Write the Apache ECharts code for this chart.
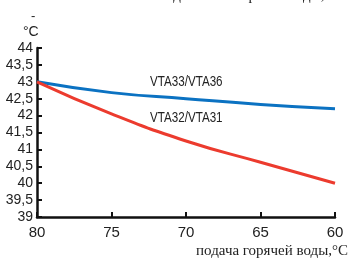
<!DOCTYPE html>
<html>
<head>
<meta charset="utf-8">
<script src="https://cdn.jsdelivr.net/npm/echarts@6/dist/echarts.min.js"></script>
<style>
  html, body { margin: 0; padding: 0; background: #fff; }
  #chart { width: 351px; height: 263px; }
</style>
</head>
<body>
<div id="chart"></div>
<script>
const supplyTemp = [80, 75, 70, 65, 60];
const vta33 = [43, 42.68, 42.5, 42.33, 42.2];
const vta32 = [43, 42.05, 41.25, 40.62, 40.0];
const seriesNames = ['VTA33/VTA36', 'VTA32/VTA31'];
const colors = ['#0b72c2', '#ec3b2e'];

const narrow = '"Liberation Sans Narrow", "Liberation Sans", sans-serif';
const serif = '"Liberation Serif", "DejaVu Serif", serif';

const toPairs = (ys) => supplyTemp.map((x, i) => [x, ys[i]]);

var myChart = echarts.init(document.getElementById('chart'));
myChart.setOption({
  animation: false,
  color: colors,
  grid: { left: 37, right: 16, top: 48, bottom: 46 },
  xAxis: {
    type: 'value',
    inverse: true,
    min: 60,
    max: 80,
    interval: 5,
    axisLine: { show: true, lineStyle: { color: '#111', width: 2.5 } },
    axisTick: { show: true, inside: true, length: 5, lineStyle: { color: '#111', width: 2 } },
    axisLabel: { color: '#222', fontFamily: narrow, fontSize: 15, margin: 8 },
    splitLine: { show: false }
  },
  yAxis: {
    type: 'value',
    min: 39,
    max: 44,
    interval: 0.5,
    axisLine: { show: true, lineStyle: { color: '#111', width: 2.5 } },
    axisTick: { show: true, inside: true, length: 5, lineStyle: { color: '#111', width: 2 } },
    axisLabel: {
      color: '#222', fontFamily: narrow, fontSize: 14, margin: 4,
      formatter: (v) => String(v).replace('.', ',')
    },
    splitLine: { show: false }
  },
  graphic: [
    { type: 'text', right: 14, top: -11, style: { text: 'снижение давления горячей воды,%', fontFamily: serif, fontSize: 15, fill: '#222' } },
    { type: 'text', left: 31, top: 10, style: { text: '-', fontFamily: narrow, fontSize: 13, fill: '#222' } },
    { type: 'text', left: 23, top: 25, style: { text: '°C', fontFamily: narrow, fontSize: 14, fill: '#222' } },
    { type: 'text', right: 3, top: 244, style: { text: 'подача горячей воды,°C', fontFamily: serif, fontSize: 15, fill: '#222' } },
    { type: 'text', x: 150, y: 75, scaleX: 0.83, style: { text: seriesNames[0], fontFamily: narrow, fontSize: 14, fill: '#222' } },
    { type: 'text', x: 150, y: 111, scaleX: 0.83, style: { text: seriesNames[1], fontFamily: narrow, fontSize: 14, fill: '#222' } }
  ],
  series: [
    {
      name: seriesNames[0],
      type: 'line',
      smooth: true,
      showSymbol: false,
      data: toPairs(vta33),
      lineStyle: { width: 3, color: colors[0] }
    },
    {
      name: seriesNames[1],
      type: 'line',
      smooth: true,
      showSymbol: false,
      data: toPairs(vta32),
      lineStyle: { width: 3, color: colors[1] }
    }
  ]
});
</script>
</body>
</html>
